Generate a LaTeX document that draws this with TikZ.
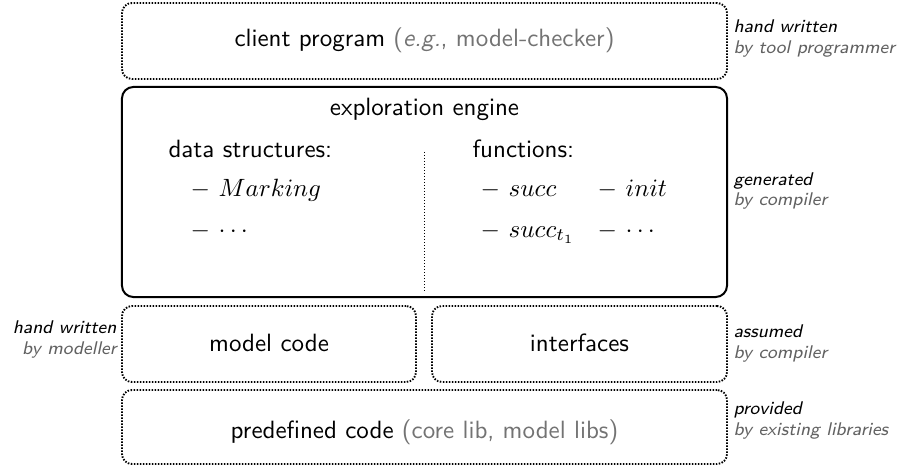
\documentclass[tikz,border=0pt]{standalone}
\usepackage{fontspec}
\begin{document}
\begin{tikzpicture}[x=0.4pt,y=-0.4pt,
  every node/.style={inner sep=0pt, font=\sffamily\fontsize{10}{12}\selectfont},
  dotbox/.style={draw, line width=0.75pt, dash pattern=on 0.6pt off 0.6pt, rounded corners=4pt},
  solidbox/.style={draw, line width=0.8pt, rounded corners=4.5pt},
  side/.style={font=\sffamily\itshape\fontsize{7.35}{9}\selectfont},
  sidegray/.style={side, text=black!62}]
\useasboundingbox (0,0) rectangle (900,466);
% boxes
\node[dotbox, minimum width=242pt, minimum height=30.4pt] (client) at (424.5,41) {};
\node[solidbox, minimum width=242pt, minimum height=84pt] (engine) at (424.5,192) {};
\node[dotbox, minimum width=117.6pt, minimum height=30.4pt] (model) at (269,344) {};
\node[dotbox, minimum width=118pt, minimum height=30.4pt] (iface) at (579.5,344) {};
\node[dotbox, minimum width=242pt, minimum height=29.6pt] (predef) at (424.5,427) {};
% box texts
\node[anchor=base] (clientT) at (424.5,47) {client program \textcolor{black!55}{(\textit{e.g.}, model-checker)}};
\node[anchor=base] (engineT) at (424.5,116) {exploration engine};
\node[anchor=base] (modelT) at (269,351) {model code};
\node[anchor=base] (ifaceT) at (579.5,351) {interfaces};
\node[anchor=base] (predefT) at (424.5,438) {predefined code \textcolor{black!55}{(core lib, model libs)}};
% engine contents
\node[anchor=base west] (ds) at (168,158) {data structures:};
\node[anchor=base west] (ds1) at (190,197) {$-$\hspace{3.5pt}$Marking$};
\node[anchor=base west] (ds2) at (190,237) {$-$\hspace{3.5pt}$\cdots$};
\node[anchor=base west] (fn) at (472,158) {functions:};
\node[anchor=base west] (fn1) at (480,197) {$-$\hspace{3.5pt}$succ$};
\node[anchor=base west] (fn2) at (480,237) {$-$\hspace{3.5pt}$succ_{t_1}$};
\node[anchor=base west] (fn3) at (597,197) {$-$\hspace{3.5pt}$init$};
\node[anchor=base west] (fn4) at (597,237) {$-$\hspace{3.5pt}$\cdots$};
\coordinate (sepT) at (424,152);
\coordinate (sepB) at (424,291);
\draw[line width=0.4pt, dash pattern=on 0.4pt off 0.8pt] (sepT) -- (sepB);
% side labels
\node[side, anchor=base west] (l1a) at (733,33) {hand written};
\node[sidegray, anchor=base west] (l1b) at (733,54) {by tool programmer};
\node[side, anchor=base west] (l2a) at (733,186) {generated};
\node[sidegray, anchor=base west] (l2b) at (733,206) {by compiler};
\node[side, anchor=base east] (l3a) at (117,333) {hand written};
\node[sidegray, anchor=base east] (l3b) at (117,354) {by modeller};
\node[side, anchor=base west] (l4a) at (733,337) {assumed};
\node[sidegray, anchor=base west] (l4b) at (733,358) {by compiler};
\node[side, anchor=base west] (l5a) at (733,414) {provided};
\node[sidegray, anchor=base west] (l5b) at (733,435) {by existing libraries};
\end{tikzpicture}
\end{document}
